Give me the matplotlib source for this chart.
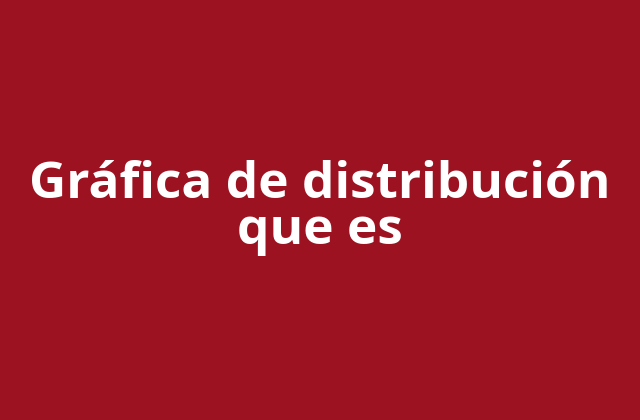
import matplotlib
matplotlib.use("Agg")
import matplotlib.pyplot as plt

# Texto del título
titulo_lineas = ["Gráfica de distribución", "que es"]
fondo = "#9c1221"
color_texto = "white"

fig = plt.figure(figsize=(6.4, 4.2), dpi=100)
fig.patch.set_facecolor(fondo)
ax = fig.add_axes([0, 0, 1, 1])
ax.set_facecolor(fondo)
ax.set_xlim(0, 640)
ax.set_ylim(420, 0)
ax.axis("off")

# Título en un solo bloque, centrado
ax.text(320, 208, "\n".join(titulo_lineas), ha="center", va="center",
        multialignment="center", linespacing=0.9,
        color=color_texto, fontsize=37, fontweight="bold", family="Open Sans")

fig.savefig("out.png", dpi=100, facecolor=fondo)
